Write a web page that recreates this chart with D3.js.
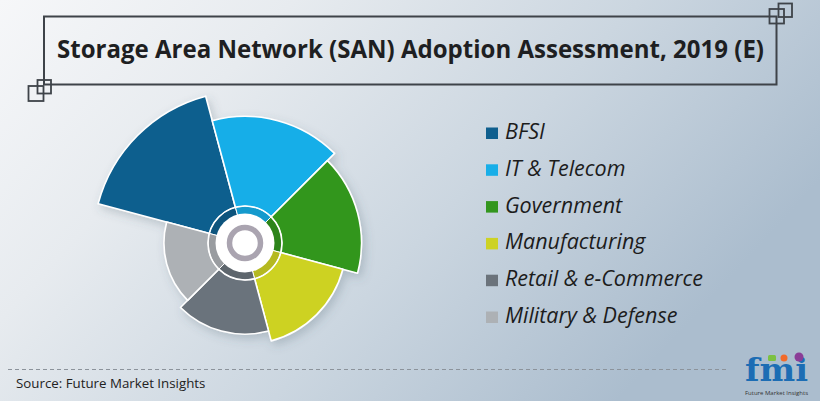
<!DOCTYPE html>
<html>
<head>
<meta charset="utf-8">
<script src="https://cdn.jsdelivr.net/npm/d3@7"></script>
<style>
  html, body { margin: 0; padding: 0; background: #eef1f4; }
  svg { display: block; }
</style>
</head>
<body>
<svg id="chart" width="820" height="401"></svg>
<script>
// Segments and their relative adoption scores (polar-area radius)
const categories = ["BFSI", "IT & Telecom", "Government", "Manufacturing", "Retail & e-Commerce", "Military & Defense"];
const adoptionScore = [30, 25, 23, 20, 18, 16];
const segmentColors = ["#0f5f8e", "#18aee8", "#33961e", "#cdd224", "#6b737b", "#adb1b5"];
const titleText = "Storage Area Network (SAN) Adoption Assessment, 2019 (E)";
const sourceText = "Source: Future Market Insights";

const W = 820, H = 401;
const svg = d3.select("#chart");
const defs = svg.append("defs");

// Background wash: pale on the left, steel blue on the right
const bg = defs.append("linearGradient").attr("id", "bgGrad")
  .attr("x1", 0).attr("y1", 0).attr("x2", 1).attr("y2", 0.45);
[[0, "#f6f7f9"], [0.3, "#e7ebef"], [0.65, "#cbd6e0"], [1, "#abbdce"]]
  .forEach(([o, c]) => bg.append("stop").attr("offset", o).attr("stop-color", c));
svg.append("rect").attr("width", W).attr("height", H).attr("fill", "url(#bgGrad)");

// Soft shadow under the wheel
const shadow = defs.append("filter").attr("id", "softShadow")
  .attr("x", "-20%").attr("y", "-20%").attr("width", "140%").attr("height", "140%");
shadow.append("feDropShadow").attr("dx", 3).attr("dy", 4).attr("stdDeviation", 5)
  .attr("flood-color", "#4a5a6a").attr("flood-opacity", 0.25);

// Title frame with the small overlapping squares at two corners
const frame = svg.append("g").attr("stroke", "#3e4349").attr("fill", "none");
frame.append("rect").attr("x", 44).attr("y", 16.5).attr("width", 732.5).attr("height", 68).attr("stroke-width", 2);
[[769.5, 9, 14.5], [778.5, 3.5, 13.5], [28.5, 86, 15], [37.5, 80, 13.5]].forEach(([x, y, s]) => {
  frame.append("rect").attr("x", x).attr("y", y).attr("width", s).attr("height", s).attr("stroke-width", 1.8);
});

svg.append("text")
  .attr("x", 410.5).attr("y", 58)
  .attr("text-anchor", "middle")
  .attr("font-family", "'Open Sans', sans-serif")
  .attr("font-weight", 700)
  .attr("font-size", 25)
  .attr("fill", "#1e1f22")
  .attr("textLength", 707)
  .attr("lengthAdjust", "spacingAndGlyphs")
  .text(titleText);

// Polar-area wheel: equal angles, radius encodes the score
const cx = 245, cy = 243;
const rScale = d3.scaleLinear().domain([0, d3.max(adoptionScore)]).range([0, 152]);
const pie = d3.pie().value(() => 1).sort(null)
  .startAngle(-75 * Math.PI / 180).endAngle(285 * Math.PI / 180);
const arcs = pie(adoptionScore.map((v, i) => ({ v, i })));

const wheel = svg.append("g").attr("transform", `translate(${cx},${cy})`);
const outer = wheel.append("g").attr("filter", "url(#softShadow)");
outer.selectAll("path.seg").data(arcs).join("path")
  .attr("class", "seg")
  .attr("d", d => d3.arc().innerRadius(0).outerRadius(rScale(d.data.v))(d))
  .attr("fill", d => segmentColors[d.data.i])
  .attr("stroke", "#ffffff").attr("stroke-width", 1.6).attr("stroke-linejoin", "round");

// Darker inner band
wheel.selectAll("path.band").data(arcs).join("path")
  .attr("class", "band")
  .attr("d", d3.arc().innerRadius(28).outerRadius(37))
  .attr("fill", d => d3.color(segmentColors[d.data.i]).darker(0.35))
  .attr("stroke", "#ffffff").attr("stroke-width", 1);

wheel.append("circle").attr("r", 37).attr("fill", "none").attr("stroke", "#ffffff").attr("stroke-width", 1.6);
wheel.append("circle").attr("r", 29.5).attr("fill", "#ffffff");
wheel.append("circle").attr("r", 15.5).attr("fill", "none").attr("stroke", "#aaa4b0").attr("stroke-width", 5.5);

// Legend
const legend = svg.append("g");
const rowY = d3.scaleLinear().domain([0, categories.length - 1]).range([139, 323]);
categories.forEach((c, i) => {
  const y = rowY(i);
  legend.append("rect").attr("x", 486).attr("y", y - 11.5).attr("width", 12).attr("height", 11.5)
    .attr("fill", segmentColors[i]);
  legend.append("text").attr("x", 505).attr("y", y)
    .attr("font-family", "'Open Sans', sans-serif")
    .attr("font-style", "italic")
    .attr("font-size", 21.5)
    .attr("fill", "#1c1c1c")
    .text(c);
});

// Footer: dashed rule, source note and logo
svg.append("line").attr("x1", 8).attr("x2", 728).attr("y1", 369.5).attr("y2", 369.5)
  .attr("stroke", "#8c939b").attr("stroke-width", 1).attr("stroke-dasharray", "4,3");

svg.append("text").attr("x", 16).attr("y", 388)
  .attr("font-family", "'Open Sans', sans-serif")
  .attr("font-size", 13.3)
  .attr("fill", "#222")
  .text(sourceText);

const logo = svg.append("g");
logo.append("text").attr("x", 745).attr("y", 381)
  .attr("font-family", "'DejaVu Serif', serif")
  .attr("font-weight", 700)
  .attr("font-size", 31)
  .attr("fill", "#1c6db4")
  .attr("textLength", 63).attr("lengthAdjust", "spacingAndGlyphs")
  .text("fmi");
logo.append("rect").attr("x", 768).attr("y", 355).attr("width", 8).attr("height", 6).attr("rx", 1.5).attr("fill", "#7cc142");
logo.append("circle").attr("cx", 784).attr("cy", 358).attr("r", 3.5).attr("fill", "#f26a2a");
logo.append("circle").attr("cx", 799).attr("cy", 357).attr("r", 4.5).attr("fill", "#8a3d97");
logo.append("text").attr("x", 745).attr("y", 395)
  .attr("font-family", "'Open Sans', sans-serif")
  .attr("font-size", 6)
  .attr("fill", "#333")
  .attr("textLength", 63).attr("lengthAdjust", "spacingAndGlyphs")
  .text("Future Market Insights");
</script>
</body>
</html>
